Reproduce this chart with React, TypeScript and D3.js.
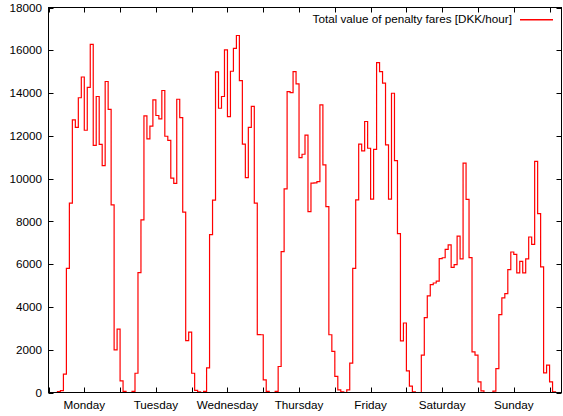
import React from 'react';
import * as d3 from 'd3';

// hourly totals, one array per weekday (index = hour of day)
const monday = [0, 0, 0, 40, 90, 860, 5800, 8850, 12750, 12400, 13780, 14750, 12260, 14270, 16280, 11550, 13840, 11600, 10610, 14540, 13240, 8770, 1990, 2960];
const tuesday = [545, 50, 0, 0, 50, 900, 5600, 8070, 12930, 11860, 12450, 13680, 12950, 12790, 14120, 11980, 11790, 10020, 9780, 13710, 12850, 8430, 2430, 2820];
const wednesday = [900, 100, 30, 0, 50, 1150, 7385, 8990, 14990, 13290, 13840, 16020, 12900, 15020, 16090, 16690, 14580, 11610, 10050, 12400, 13380, 8850, 2710, 2700];
const thursday = [590, 50, 0, 0, 50, 1215, 6590, 9520, 14070, 14020, 15000, 14430, 10980, 11140, 12030, 8460, 9790, 9800, 9860, 13450, 10640, 8690, 2700, 1920];
const friday = [750, 125, 30, 0, 125, 1370, 5800, 9005, 11610, 11300, 12670, 11420, 9040, 11370, 15420, 15000, 14460, 11580, 9040, 13990, 10840, 7430, 2410, 3250];
const saturday = [1010, 300, 30, 0, 0, 1744, 3500, 4515, 5045, 5120, 5210, 6260, 6300, 6690, 6900, 5850, 5980, 7310, 6250, 10720, 9030, 6306, 1900, 1750];
const sunday = [498, 78, 0, 0, 0, 62, 1120, 3640, 4420, 4620, 5745, 6570, 6460, 5590, 6134, 5590, 6243, 7271, 6929, 10806, 8361, 5870, 919, 1277];
const nextMonday = [498, 31, 0, 0];

const dayLabels = ['Monday', 'Tuesday', 'Wednesday', 'Thursday', 'Friday', 'Saturday', 'Sunday'];
const yTicks = [0, 2000, 4000, 6000, 8000, 10000, 12000, 14000, 16000, 18000];
const xTicks = d3.range(0, 169, 12);
const legendLabel = 'Total value of penalty fares [DKK/hour]';

const W = 563;
const H = 416;
const margin = { top: 7.5, right: 1.5, bottom: 23.5, left: 48.5 };
const font = '"Liberation Sans", Arial, Helvetica, sans-serif';
const red = '#ff0000';

export default function App() {
  const values = [...monday, ...tuesday, ...wednesday, ...thursday, ...friday, ...saturday, ...sunday, ...nextMonday];
  const points: [number, number][] = values.map((v, i) => [i, v]);
  points.push([values.length, values[values.length - 1]]);

  const x = d3.scaleLinear().domain([0, 172]).range([margin.left, W - margin.right]);
  const y = d3.scaleLinear().domain([0, 18000]).range([H - margin.bottom, margin.top]);

  const line = d3.line<[number, number]>()
    .x(d => x(d[0]))
    .y(d => y(d[1]))
    .curve(d3.curveStepAfter);

  const x0 = x.range()[0];
  const x1 = x.range()[1];
  const yb = y.range()[0];
  const yt = y.range()[1];
  const tick = 5;

  return (
    <svg width={W} height={H} style={{ position: 'absolute', left: 0, top: 0, background: '#fff' }}
      fontFamily={font} fontSize={11.7}>
      <rect x={0} y={0} width={W} height={H} fill="#fff" />

      {/* y ticks, mirrored on the right */}
      {yTicks.map(t => (
        <g key={'y' + t}>
          <line x1={x0} x2={x0 + tick} y1={Math.round(y(t)) + 0.5} y2={Math.round(y(t)) + 0.5} stroke="#000" />
          <line x1={x1} x2={x1 - tick} y1={Math.round(y(t)) + 0.5} y2={Math.round(y(t)) + 0.5} stroke="#000" />
          <text x={x0 - 6.5} y={y(t)} dy="0.36em" textAnchor="end" fill="#000">{t}</text>
        </g>
      ))}

      {/* x ticks every 12 hours, mirrored on top */}
      {xTicks.map(t => (
        <g key={'x' + t}>
          <line x1={Math.round(x(t)) + 0.5} x2={Math.round(x(t)) + 0.5} y1={yb} y2={yb - tick} stroke="#000" />
          <line x1={Math.round(x(t)) + 0.5} x2={Math.round(x(t)) + 0.5} y1={yt} y2={yt + tick} stroke="#000" />
        </g>
      ))}
      {dayLabels.map((d, i) => (
        <text key={d} x={x(12 + 24 * i)} y={yb + 16.5} textAnchor="middle" fill="#000">{d}</text>
      ))}

      <path d={line(points) ?? ''} fill="none" stroke={red} strokeWidth={1.2} />

      {/* legend */}
      <text x={512} y={23.4} textAnchor="end" fill="#000">{legendLabel}</text>
      <rect x={520} y={19} width={33} height={1.5} fill={red} />

      <rect x={x0} y={yt} width={x1 - x0} height={yb - yt} fill="none" stroke="#000" strokeWidth={1} />
    </svg>
  );
}
